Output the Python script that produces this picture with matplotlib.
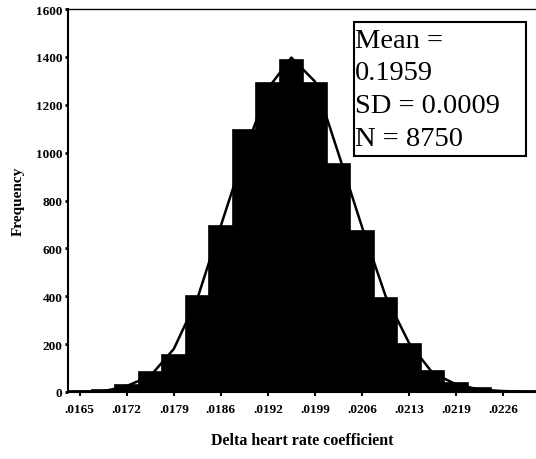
import matplotlib
matplotlib.use("Agg")
import matplotlib.pyplot as plt
from matplotlib.patches import Rectangle
import numpy as np

# Histogram of the delta heart rate coefficient (20 equal-width bins)
bin_counts = [5, 10, 30, 84, 155, 402, 694, 1096, 1289, 1385,
              1289, 954, 674, 393, 200, 88, 38, 17, 6, 3]
# Fitted normal curve evaluated at the bin centres
fit_values = [1, 3, 25, 67, 180, 390, 695, 996, 1268, 1397,
              1297, 996, 690, 402, 205, 80, 32, 10, 4, 1]
tick_labels = [".0165", ".0172", ".0179", ".0186", ".0192",
               ".0199", ".0206", ".0213", ".0219", ".0226"]
stats_text = "Mean =\n0.1959\nSD = 0.0009\nN = 8750"

serif = ["Liberation Serif", "DejaVu Serif"]

fig = plt.figure(figsize=(5.36, 4.60), dpi=100)
ax = fig.add_axes([68 / 536, 67 / 460, 468 / 536, 383 / 460])

pos = np.arange(len(bin_counts))
ax.bar(pos, bin_counts, width=1.0, color="black", edgecolor="black",
       linewidth=1.2, zorder=2)
ax.plot(np.concatenate(([-0.5], pos, [19.5])),
        [0] + fit_values + [0], color="black", lw=1.8, zorder=3)

ax.set_xlim(-0.5, 19.4)
ax.set_ylim(0, 1600)
ax.set_xticks(pos[::2])
ax.set_xticklabels(tick_labels)
ax.set_yticks(np.arange(0, 1601, 200))

for lab in ax.get_xticklabels() + ax.get_yticklabels():
    lab.set_fontfamily(serif)
    lab.set_fontweight("bold")
    lab.set_fontsize(9.5)

ax.tick_params(axis="x", direction="out", length=3, width=1.5, pad=5)
ax.tick_params(axis="y", direction="out", length=2, width=2, pad=2)

ax.spines["right"].set_visible(False)
ax.spines["top"].set_linewidth(1.0)
ax.spines["left"].set_linewidth(1.5)
ax.spines["bottom"].set_linewidth(1.5)

ax.set_xlabel("Delta heart rate coefficient", family=serif,
              fontweight="bold", fontsize=11.5, labelpad=12)
ax.set_ylabel("Frequency", family=serif, fontweight="bold",
              fontsize=11, labelpad=8)

# Summary statistics box
ax.add_patch(Rectangle((0.611, 0.616), 0.368, 0.350, transform=ax.transAxes,
                       facecolor="white", edgecolor="black", linewidth=1.5,
                       zorder=5))
ax.text(0.613, 0.951, stats_text, transform=ax.transAxes, family=serif,
        fontsize=20.5, ha="left", va="top", linespacing=1.4, zorder=6)

fig.savefig("out.png", dpi=100, facecolor="white")
